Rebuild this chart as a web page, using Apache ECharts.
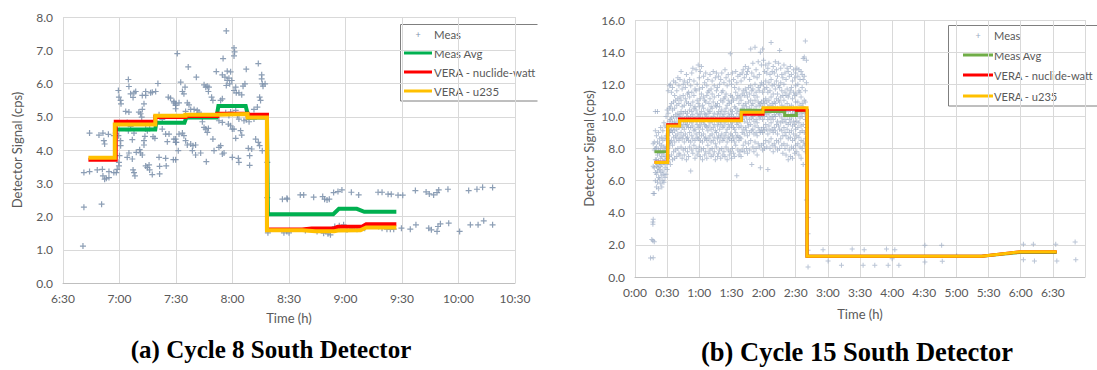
<!DOCTYPE html>
<html>
<head>
<meta charset="utf-8">
<script src="https://cdn.jsdelivr.net/npm/echarts@6/dist/echarts.min.js"></script>
<style>
  html, body { margin: 0; padding: 0; background: #fff; }
  #main { width: 1097px; height: 370px; }
</style>
</head>
<body>
<div id="main"></div>
<script>
// ---- Cycle 8 (left), time in minutes of the day ----
const c8Meas = [
  [400.6,1.11],[401.1,2.28],[410.5,2.37],[401.1,3.32],[404.1,3.35],[404.1,4.51],[409.1,4.45],[411.2,4.51],[411.7,4.28],[412.1,4.18],
  [414.1,4.47],[408.2,3.40],[410.9,3.42],[411.2,3.22],[412.1,3.12],[413,3.15],[414.4,3.17],[414.4,3.35],[417,3.32],[418.3,3.32],
  [418.8,3.42],[419.7,3.52],[418,4.51],[417,4.43],[419.4,5.79],[419.7,5.59],[420.6,5.49],[420.8,5.39],[419.4,4.43],[420.6,4.28],
  [420.6,4.13],[420,3.83],[419.7,3.63],[424.7,6.12],[425,5.91],[425.9,5.69],[427.7,5.72],[427.2,5.58],[428.6,5.76],[424.1,4.83],
  [425.9,4.71],[424.7,4.58],[425,5.14],[423.3,5.16],[426.8,4.31],[427.7,4.51],[425,3.91],[424.1,3.78],[426.8,3.73],[427.2,3.40],
  [427.7,3.32],[428.2,3.22],[428.9,3.93],[430.7,4.01],[431.2,3.91],[432.1,3.85],[432.1,5.22],[431.2,5.09],[431.8,4.99],[430.3,5.14],
  [433,5.39],[432.1,5.64],[433.9,5.64],[433.9,5.76],[436.5,5.72],[437.4,5.74],[439.2,5.76],[440.4,6.00],[433.9,4.63],[434.8,4.58],
  [436,4.65],[433,4.28],[433.5,4.41],[433,4.15],[433.9,3.52],[434.8,3.47],[436,3.40],[435.7,3.55],[437.4,3.26],[441.3,3.28],
  [437.8,4.40],[438.8,4.35],[441,3.78],[441.3,3.51],[444.5,4.48],[446.3,4.48],[445.4,4.25],[444.5,3.75],[445.9,5.59],[447.1,5.56],
  [448.9,5.42],[448.6,3.71],[444.8,3.52],[449.8,5.39],[449.8,5.24],[449.8,4.33],[449.8,4.23],[441,5.06],[442.7,4.92],[449.8,3.71],
  [442.7,4.63],
  [476.7,7.58],[480.8,7.07],[481.1,6.95],[480.8,6.83],[450.7,6.90],[475,6.75],[479,6.35],[477.2,6.37],[456.5,6.50],[471.4,6.36],
  [460.8,6.19],[493.7,6.60],[487.3,6.43],[495.5,6.26],[495.5,6.14],[495.8,5.99],[497.3,5.99],[496.2,5.92],[474.6,6.26],[476,6.19],
  [477.2,6.09],[476.7,5.94],[478.1,6.16],[479.6,6.09],[478.5,5.99],[464.9,5.96],[465.8,5.89],[466.6,5.92],[467.5,5.89],[467.2,5.76],
  [452.5,6.04],[454.8,5.89],[453.4,5.76],[454.2,5.69],[481.7,5.89],[480.8,5.79],[482,5.72],[485.6,5.92],[486.6,5.99],[484.9,5.66],
  [483.4,5.72],[494.4,5.59],[494.9,5.49],[474.6,5.54],[473.7,5.49],[468.9,5.59],[469.6,5.49],[451.6,5.42],[449.8,5.34],[448.9,5.46],
  [456,5.42],[456.9,5.36],[493.2,5.29],[491.4,5.22],[455.1,5.16],[457.8,5.22],[459.6,5.22],[461.3,5.19],[462.2,5.14],[476.4,5.12],
  [478.1,5.04],[479,5.14],[481.7,5.19],[482.6,5.04],[483.4,4.93],[486.1,4.88],[487.3,4.91],[488.8,4.85],[489.6,4.99],[491.4,4.93],
  [472.8,4.88],[474.6,4.83],[477.8,4.78],[479,4.73],[479.9,4.63],[464,4.85],[464.9,4.68],[465.8,4.63],[467.2,4.65],[466.6,4.53],
  [451.6,4.48],[453.4,4.51],[454.2,4.43],[448.9,4.33],[450.2,4.23],[451.2,3.98],[455.1,4.28],[456,4.15],[457.8,4.18],[459,4.13],
  [460.4,4.15],[458.7,3.98],[460.4,3.85],[463.1,3.91],[466.1,3.65],[469.6,4.33],[470.2,3.98],[472.8,4.08],[473.7,4.13],[474.6,3.88],
  [475.5,3.91],[480.8,4.63],[481.7,4.35],[479.9,3.78],[483.1,3.75],[483.4,3.63],[484.3,4.58],[484.9,4.45],[488.4,4.05],[490.2,4.03],
  [489.1,3.83],[489.1,3.54],[492.3,4.33],[493.7,4.23],[494.4,4.13],[495.8,3.98],[498.5,3.63],[498.5,2.57],[506.5,2.52],[509.1,2.52],
  [498.8,1.51],[507.3,1.51],[510,1.51],
  [508.9,2.55],[516,2.65],[517.8,2.65],[523.1,2.58],[527.9,2.60],[528.9,2.52],[530.2,2.50],[531.4,2.52],[533.7,2.72],[536,2.75],
  [538.1,2.80],[543.1,2.73],[547,2.65],[557.3,2.73],[559.4,2.73],[562.6,2.67],[564.3,2.67],[567.9,2.64],[570.4,2.64],[577.1,2.78],
  [582.8,2.74],[584.5,2.68],[586.8,2.65],[588.6,2.72],[589.5,2.80],[594.4,2.82],[605.4,2.78],[609.8,2.82],[612.8,2.88],[618.1,2.87],
  [508.9,1.55],[518.7,1.58],[524.9,1.55],[528.4,1.50],[530.7,1.48],[532,1.45],[534.3,1.70],[536.7,1.72],[539,1.75],[540.8,1.60],
  [543.5,1.65],[546.1,1.62],[550.2,1.65],[557.6,1.70],[559.4,1.65],[562,1.62],[563.8,1.62],[565.6,1.62],[569.7,1.65],[574.4,1.62],
  [577.4,1.75],[584.2,1.65],[585.6,1.60],[588.6,1.55],[589.1,1.70],[590.4,1.78],[594.8,1.80],[600.6,1.55],[606.3,1.75],[610.4,1.75],
  [613.4,1.87],[618.1,1.75]
];
const c8Avg = [[418.5,4.62],[439,4.62],[439.5,4.82],[454.5,4.82],[455.5,4.98],[471.5,4.98],[472.5,5.32],[487,5.32],[488.5,4.98],
  [498.3,4.98],[498.8,2.07],[533.5,2.07],[536.5,2.23],[546,2.23],[550,2.14],[567,2.14]];
const c8Nuclide = [[403.5,3.71],[418,3.71],[418,4.85],[439,4.85],[439,4.99],[455,4.99],[455,5.02],[472,5.02],[472,5.09],[488,5.09],
  [488,5.06],[498.3,5.06],[498.3,1.61],[517,1.61],[522,1.64],[534,1.65],[536,1.69],[549,1.70],[551,1.77],[567,1.77]];
const c8U235 = [[403.5,3.77],[417.5,3.77],[417.5,4.77],[439,4.77],[439,5.03],[455,5.03],[455,5.06],[472,5.06],[472,5.08],[488,5.08],
  [488,4.98],[498.3,4.98],[498.3,1.59],[517,1.59],[524,1.56],[534,1.56],[536,1.58],[548,1.59],[551,1.67],[567,1.67]];

// ---- Cycle 15 (right), time in minutes since 0:00 ----
// each row: minute, then the readings seen at that minute
const c15Cloud = [
  [14.5,1.19],[15.7,2.33],[16.7,2.25,3.43,3.29],
  [17,1.2,3.6,5.2,6.9,8.3],[18,2.2,5.2,6.8,7.9,8.4],[19,6.0,6.5,7.3,8.0,9.1,10.3],
  [20,5.6,6.4,6.9,7.3,8.1,8.8],[21,5.9,6.6,7.0,7.6,8.4,10.3],[22,5.5,6.2,6.8,7.2,7.9,9.0],[23,6.1,6.7,7.1,7.7,8.3,8.6],
  [24,5.8,6.5,6.9,7.4,8.0,9.3],[25,5.6,6.3,7.0,7.5,8.2,8.7],[26,6.0,6.6,7.2,7.8,8.5,9.1],[27,5.9,6.4,7.1,7.6,8.1,9.6],
  [28,6.2,6.8,7.3,7.9,8.6,9.4],[29,6.4,7.0,7.5,8.1,8.8,10.0],[30,6.7,7.4,8.0,8.6,9.3,10.4],[31,7.2,8.1,8.8,9.4,10.2,11.6],
  [32,7.5,8.3,9.0,9.7,10.5,11.9],[33,7.0,8.4,9.1,9.8,10.6,12.0],[34,7.6,8.5,9.2,9.9,10.8,11.5],[35,7.3,8.2,9.0,9.6,10.4,11.8],
  [36,7.8,8.7,9.3,10.0,10.9,12.2],[37,7.4,8.4,9.1,9.7,10.5,11.3],[38,7.9,8.8,9.5,10.1,11.0,12.1],[39,7.5,8.6,9.2,9.9,10.7,11.6],
  [40,8.0,8.9,9.6,10.2,11.1,12.4],[41,7.7,8.5,9.3,10.0,10.8,11.9],[42,7.6,8.7,9.4,10.1,11.2,12.3],[43,8.1,9.0,9.7,10.3,11.0,12.8],
  [44,7.4,8.6,9.3,9.9,10.6,11.7],[45,7.9,8.8,9.5,10.2,11.3,12.0],[46,7.6,8.4,9.2,9.8,10.7,12.2],[47,8.0,8.9,9.6,10.3,11.1,11.8],
  [48,7.3,8.6,9.4,10.0,10.9,12.6],[49,7.8,8.7,9.5,10.2,11.4,12.1],[50,7.5,8.5,9.3,9.9,10.8,11.5],[51,8.1,9.0,9.7,10.4,11.2,12.3],
  [52,6.6,8.4,9.3,10.0,10.7,11.9],[53,7.9,8.8,9.6,10.3,11.5,12.7],[54,7.7,8.6,9.4,10.1,10.9,13.0],[55,8.2,9.1,9.8,10.5,11.3,12.2],
  [56,7.4,8.5,9.2,9.9,10.6,11.7],[57,8.0,8.9,9.7,10.4,11.6,12.9],[58,7.6,8.7,9.5,10.2,11.0,12.0],[59,7.8,8.6,9.3,10.0,10.8,13.2],
  [60,8.1,9.0,9.8,10.6,11.7,12.4],[61,7.5,8.5,9.4,10.1,11.1,12.8],[62,7.9,8.8,9.6,10.3,11.4,13.1],[63,7.3,8.4,9.2,9.9,10.7,11.8],
  [64,8.0,8.9,9.7,10.5,11.2,12.5],[65,7.6,8.6,9.5,10.2,11.0,12.1],[66,7.8,8.7,9.4,10.1,10.9,12.7],[67,7.4,8.5,9.3,10.0,11.3,11.9],
  [68,8.2,9.1,9.8,10.4,11.5,12.3],[69,7.7,8.6,9.4,10.2,10.8,11.6],[70,7.9,8.8,9.6,10.3,11.1,12.6],[71,7.5,8.4,9.2,9.9,10.6,11.7],
  [72,8.0,8.9,9.7,10.5,11.4,12.2],[73,7.6,8.5,9.3,10.0,10.9,12.8],[74,7.8,8.7,9.5,10.2,11.2,11.9],[75,7.3,8.3,9.1,9.8,10.7,12.4],
  [76,8.1,9.0,9.8,10.6,11.6,12.7],[77,7.5,8.6,9.4,10.1,10.8,11.8],[78,7.7,8.8,9.6,10.3,11.3,12.5],[79,7.9,8.4,9.2,9.9,10.6,12.0],
  [80,7.4,8.7,9.5,10.2,11.0,12.3],[81,8.0,8.9,9.7,10.4,11.5,12.7],[82,7.6,8.5,9.3,10.0,10.9,11.6],[83,7.8,8.6,9.4,10.1,11.1,12.1],
  [84,7.5,8.8,9.6,10.3,11.2,12.9],[85,8.1,9.0,9.8,10.5,11.4,12.4],[86,7.3,8.4,9.2,9.9,10.7,11.9],[87,7.9,8.7,9.5,10.2,11.0,12.6],
  [88,7.6,8.6,9.3,10.0,10.8,12.2],[89,7.8,8.9,9.7,10.4,11.3,13.9],[90,7.4,8.5,9.4,10.1,10.9,12.0],[91,8.0,8.8,9.6,10.3,11.2,12.7],
  [92,7.7,8.6,9.3,10.0,11.0,12.3],[93,7.5,8.4,9.2,9.8,10.6,11.8],[94,8.2,9.0,9.8,10.5,11.5,12.8],[95,6.3,8.7,9.5,10.2,11.1,12.1],
  [96,7.9,8.8,9.6,10.4,11.3,12.5],[97,7.6,8.5,9.3,10.0,10.8,11.7],[98,7.8,8.7,9.7,10.3,11.2,12.6],[99,7.5,8.6,9.4,10.1,11.0,12.2],
  [100,7.9,9.0,9.8,10.5,11.4,12.7],[101,8.2,9.2,10.0,10.7,11.6,12.9],[102,7.8,8.9,9.7,10.4,11.3,12.4],[103,8.4,9.3,10.1,10.8,11.7,13.1],
  [104,8.0,9.1,9.9,10.6,11.5,12.6],[105,7.7,8.8,9.6,10.3,11.2,12.8],[106,8.3,9.4,10.2,10.9,11.8,13.0],[107,7.9,9.0,9.8,10.5,11.4,12.3],
  [108,8.5,9.5,10.3,11.0,11.9,14.2],[109,7.0,9.1,9.9,10.7,11.6,12.7],[110,8.1,9.2,10.0,10.8,11.7,13.3],[111,7.8,8.9,9.7,10.4,11.3,12.5],
  [112,8.4,9.4,10.2,11.0,12.0,14.3],[113,8.0,9.0,9.8,10.6,11.5,12.9],[114,7.6,8.8,9.6,10.3,11.2,12.4],[115,8.3,9.3,10.1,10.9,11.8,13.4],
  [116,8.1,9.1,9.9,10.7,11.6,12.6],[117,6.8,9.0,10.0,10.8,11.9,14.0],[118,8.2,9.2,10.1,10.9,12.1,13.2],[119,7.9,9.0,9.8,10.6,11.5,14.2],
  [120,8.3,9.3,10.2,11.0,12.0,13.5],[121,8.0,9.1,10.0,10.8,11.7,12.8],[122,8.5,9.5,10.3,11.1,12.2,13.2],[123,8.1,9.2,10.1,10.9,11.8,12.7],
  [124,6.7,8.9,9.8,10.6,11.5,13.0],[125,8.4,9.4,10.2,11.0,12.1,13.3],[126,8.0,9.1,9.9,10.7,11.6,12.6],[127,8.6,9.6,10.4,11.2,12.3,14.6],
  [128,8.2,9.2,10.0,10.8,11.9,12.8],[129,7.8,9.0,9.8,10.6,11.4,13.1],[130,8.3,9.3,10.1,10.9,12.0,12.7],[131,8.1,9.1,10.0,10.8,11.7,13.4],
  [132,8.5,9.5,10.3,11.1,12.2,12.9],[133,7.9,8.9,9.7,10.5,11.4,12.5],[134,8.4,9.4,10.2,11.0,11.9,13.3],[135,8.0,9.2,10.1,10.9,11.8,14.1],
  [136,8.6,9.6,10.4,11.2,12.1,13.0],[137,8.2,9.1,9.9,10.7,11.6,12.6],[138,7.7,8.8,9.7,10.5,11.3,12.4],[139,8.3,9.3,10.2,11.0,12.0,13.2],
  [140,8.0,9.0,9.8,10.6,11.5,12.7],[141,7.6,8.8,9.6,10.4,11.3,12.3],[142,8.2,9.2,10.0,10.8,11.7,13.0],[143,7.3,8.6,9.5,10.3,11.2,12.8],
  [144,7.9,9.0,9.8,10.6,11.4,12.5],[145,7.5,8.7,9.6,10.4,11.6,13.1],[146,8.1,9.1,9.9,10.7,11.8,12.6],[147,7.4,8.5,9.4,10.2,11.1,12.2],
  [148,8.0,8.9,9.7,10.5,11.5,12.9],[149,7.7,8.6,9.5,10.3,11.3,12.4],[150,8.2,9.2,10.0,10.9,11.9,12.7],[151,7.8,8.8,9.7,10.5,11.4,13.0],
  [152,8.3,9.3,10.1,10.9,12.0,12.5],[153,7.6,8.7,9.6,10.4,11.6,12.9],[154,8.1,9.0,9.9,10.7,11.5,12.3],[155,7.4,8.5,9.4,10.2,11.2,12.8],
  [156,8.0,9.1,10.0,10.8,11.8,12.6],[157,7.0,8.4,9.5,10.6,12.3,13.6],[158,8.2,9.0,10.2,11.0,12.5,13.7],[159,7.8,8.6,9.8,10.9,11.6,14.7],
  [160,4.8,8.3,9.3,10.4,12.1,13.5],[161.5,3.7,2.7,1.66,0.62],
  [175.5,1.70],[180.2,1.00],[192.7,0.73],[202.7,1.75],[213.9,1.70],[212.9,0.73],[223.8,0.73],[234.7,1.75],[242.5,1.70],
  [236.3,0.73],[246.3,0.73],[240,1.14],[270.6,1.98,0.94],[286.2,1.98],[286.8,0.98],[300.2,1.33],[362.5,2.04,1.08],
  [371.8,2.04],[372.8,1.00],[392.7,2.04],[393.7,1.00],[410.8,2.18],[411.4,1.08]
];
const c15Avg = [[18.2,7.79],[30.5,7.79],[30.5,9.45],[41.6,9.45],[41.6,9.76],[99.2,9.76],[99.2,10.38],[119.5,10.38],[119.5,10.31],
  [139.7,10.31],[139.7,10.05],[150.6,10.05],[150.6,10.35],[160.6,10.35],[160.6,1.29],[323.5,1.29],[359.3,1.53],[393.6,1.53]];
const c15Nuclide = [[18.2,7.15],[30.5,7.15],[30.5,9.48],[41.6,9.48],[41.6,9.83],[99.2,9.83],[99.2,10.13],[119.5,10.13],[119.5,10.45],
  [150.6,10.45],[150.6,10.38],[160.6,10.38],[160.6,1.29],[323.5,1.29],[359.3,1.57],[393.6,1.57]];
const c15U235 = [[18.2,7.13],[30.5,7.13],[30.5,9.40],[41.6,9.40],[41.6,9.72],[99.2,9.72],[99.2,10.26],[119.5,10.26],[119.5,10.54],
  [160.6,10.54],[160.6,1.29],[323.5,1.29],[359.3,1.57],[393.6,1.57]];

const seriesNames = ['Meas', 'Meas Avg', 'VERA - nuclide-watt', 'VERA - u235'];

const plus = 'path://M2,0H3V2H5V3H3V5H2V3H0V2H2Z';
const gray = '#595959';
const gridCol = '#d9d9d9';
const font = 'Lato, "Open Sans", sans-serif';

function hm(v) {
  const h = Math.floor(v / 60), m = Math.round(v % 60);
  return h + ':' + String(m).padStart(2, '0');
}
function cloudPoints(rows) {
  const out = [];
  rows.forEach(r => r.slice(1).forEach(v => out.push([r[0], v])));
  return out;
}

function xAx(idx, min, max, gap, showMax) {
  return {
    type: 'value', gridIndex: idx, min: min, max: max, interval: 30,
    name: 'Time (h)', nameLocation: 'middle', nameGap: gap,
    nameTextStyle: { color: gray, fontSize: 13, fontFamily: font },
    axisLine: { show: true, onZero: false, lineStyle: { color: '#bfbfbf' } },
    axisTick: { show: false },
    axisLabel: { color: gray, fontSize: 12, fontFamily: font, margin: 9, formatter: hm, showMaxLabel: showMax },
    splitLine: { show: true, lineStyle: { color: gridCol } }
  };
}
function yAx(idx, max, interval, gap) {
  return {
    type: 'value', gridIndex: idx, min: 0, max: max, interval: interval,
    name: 'Detector Signal (cps)', nameLocation: 'middle', nameGap: gap, nameRotate: 90,
    nameTextStyle: { color: gray, fontSize: 13, fontFamily: font },
    axisLine: { show: false }, axisTick: { show: false },
    axisLabel: { color: gray, fontSize: 12, fontFamily: font, margin: 10, formatter: v => v.toFixed(1) },
    splitLine: { show: true, lineStyle: { color: gridCol } }
  };
}
function stepLine(name, data, color, width, idx) {
  return {
    name: name, type: 'line', data: data, xAxisIndex: idx, yAxisIndex: idx,
    showSymbol: false, silent: true, animation: false,
    lineStyle: { color: color, width: width, cap: 'butt', join: 'miter' }
  };
}

// legend drawn as a boxed list, like the spreadsheet one
function legendBox(x, y, w, rows, lineX1, lineX2, textX, colors, markColor, size) {
  const els = [{
    type: 'polyline', silent: true,
    shape: { points: [[x + w, y], [x, y], [x, rows[rows.length - 1] + 10], [x + w, rows[rows.length - 1] + 10]] },
    style: { stroke: '#7f7f7f', fill: null, lineWidth: 1 }
  }];
  seriesNames.forEach((n, i) => {
    if (i === 0) {
      els.push({ type: 'text', silent: true, x: (lineX1 + lineX2) / 2, y: rows[i],
        style: { text: '+', fill: markColor, font: '9px ' + font, align: 'center', verticalAlign: 'middle' } });
    } else {
      els.push({ type: 'line', silent: true, shape: { x1: lineX1, y1: rows[i], x2: lineX2, y2: rows[i] },
        style: { stroke: colors[i], lineWidth: 3 } });
    }
    els.push({ type: 'text', silent: true, x: textX, y: rows[i],
      style: { text: n, fill: gray, font: size + 'px ' + font, verticalAlign: 'middle' } });
  });
  return els;
}

const chart = echarts.init(document.getElementById('main'), null, { renderer: 'svg' });
const option = {
  animation: false,
  backgroundColor: '#fff',
  grid: [
    { left: 63, top: 17, width: 452, height: 266 },
    { left: 635, top: 20, width: 450, height: 257 }
  ],
  xAxis: [xAx(0, 390, 630, 28, true), xAx(1, 0, 420, 30, false)],
  yAxis: [yAx(0, 8, 1, 40), yAx(1, 16, 2, 40)],
  series: [
    { name: 'Meas', type: 'scatter', xAxisIndex: 0, yAxisIndex: 0, data: c8Meas, symbol: plus, symbolSize: 6,
      silent: true, itemStyle: { color: '#7f93ad', opacity: 0.9 } },
    stepLine('Meas Avg', c8Avg, '#00b050', 4, 0),
    stepLine('VERA - nuclide-watt', c8Nuclide, '#ff0000', 4, 0),
    stepLine('VERA - u235', c8U235, '#ffc000', 4, 0),
    { name: 'Meas', type: 'scatter', xAxisIndex: 1, yAxisIndex: 1, data: cloudPoints(c15Cloud), symbol: plus, symbolSize: 5,
      silent: true, itemStyle: { color: '#93a5be', opacity: 0.65 } },
    stepLine('Meas Avg', c15Avg, '#70ad47', 3, 1),
    stepLine('VERA - nuclide-watt', c15Nuclide, '#ff0000', 3, 1),
    stepLine('VERA - u235', c15U235, '#ffc000', 3, 1)
  ],
  graphic: [
    ...legendBox(400.5, 24.5, 137, [34, 53, 72, 91], 404, 432, 434, [null, '#00b050', '#ff0000', '#ffc000'], '#7f93ad', 11.4),
    ...legendBox(948.5, 25.5, 150, [35, 55, 75, 96], 963, 993, 994, [null, '#70ad47', '#ff0000', '#ffc000'], '#9aabc3', 11.1),
    { type: 'text', silent: true, x: 271, y: 349,
      style: { text: '(a) Cycle 8 South Detector', fill: '#000', font: 'bold 25px "Liberation Serif", "Times New Roman", serif',
        align: 'center', verticalAlign: 'middle' } },
    { type: 'text', silent: true, x: 857, y: 352,
      style: { text: '(b) Cycle 15 South Detector', fill: '#000', font: 'bold 26.5px "Liberation Serif", "Times New Roman", serif',
        align: 'center', verticalAlign: 'middle' } }
  ]
};
chart.setOption(option);
</script>
</body>
</html>
